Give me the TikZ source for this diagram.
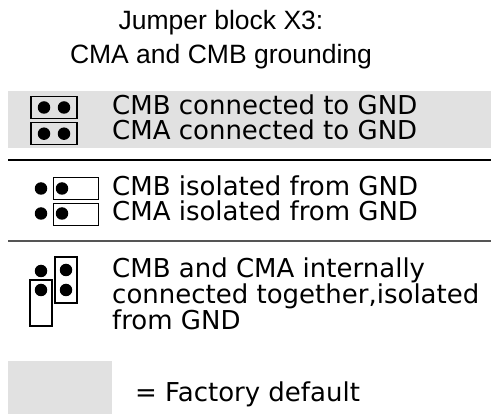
\documentclass[tikz,border=0pt]{standalone}
\usepackage{fontspec}
\setmainfont{DejaVu Sans}
\newfontfamily\titlefont{Liberation Sans}
\usetikzlibrary{positioning}
\definecolor{factory}{RGB}{225,225,225}
\definecolor{sepgray}{RGB}{85,85,85}

\begin{document}
\begin{tikzpicture}[x=1pt,y=-1pt,
   jbox/.style={draw,line width=1.2pt,inner sep=0pt,minimum width=46pt,minimum height=22pt},
   vbox/.style={jbox,minimum width=22pt,minimum height=46pt},
   pin/.style={circle,fill=black,inner sep=0pt,minimum size=12.5pt},
   txt/.style={anchor=base west,inner sep=0pt,font=\fontsize{26}{25}\selectfont},
   ]
   \useasboundingbox (0,0) rectangle (491,414);
   % factory default shading
   \fill[factory] (8,91) rectangle (491,148);
   \fill[factory] (8,361) rectangle (112,414);

   \node[align=center,font=\titlefont\fontsize{26.5}{34}\selectfont] (title) at (221,40)
        {Jumper block X3:\\CMA and CMB grounding};

   % both connected
   \node[jbox] (b1) at (54,107.5) {};
   \node[jbox] (b2) [below=3pt of b1] {};
   \node[pin] (p1a) at ([xshift=-10pt]b1.center) {};
   \node[pin] (p1b) at ([xshift=10pt]b1.center) {};
   \node[pin] (p2a) at ([xshift=-10pt]b2.center) {};
   \node[pin] (p2b) at ([xshift=10pt]b2.center) {};
   \node[txt] (t1) at (112,115) {CMB connected to GND};
   \node[txt] (t2) at (112,139.5) {CMA connected to GND};

   \draw[line width=1.3pt] (8,160) -- (491,160);

   % both isolated
   \node[jbox,minimum width=45pt] (b3) at (76,188.5) {};
   \node[jbox,minimum width=45pt] (b4) [below=3pt of b3] {};
   \node[pin] (p3a) at (41,188.5) {};
   \node[pin] (p3b) at (62,188.5) {};
   \node[pin] (p4a) at (41,213.5) {};
   \node[pin] (p4b) at (62,213.5) {};
   \node[txt] (t3) at (112,196) {CMB isolated from GND};
   \node[txt] (t4) at (112,221) {CMA isolated from GND};

   \draw[sepgray,line width=2pt] (8,241) -- (491,241);

   % internally connected
   \node[vbox] (b5) at (41,303) {};
   \node[vbox] (b6) at (66,280) {};
   \node[pin] (p5a) at (41,271) {};
   \node[pin] (p5b) at (41,290) {};
   \node[pin] (p6a) at (66,270) {};
   \node[pin] (p6b) at (66,290) {};
   \node[txt,align=left] (t5) at (112,330)
        {CMB and CMA internally\\connected together,isolated\\from GND};

   \node[txt] (t6) at (135,402) {= Factory default};
\end{tikzpicture}
\end{document}
